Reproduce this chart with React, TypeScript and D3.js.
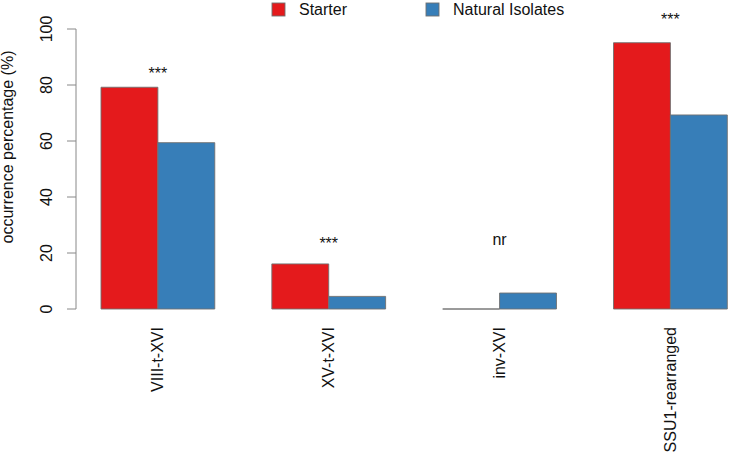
import React, { useEffect, useRef } from "react";
import * as d3 from "d3";

const categories = ["VIII-t-XVI", "XV-t-XVI", "inv-XVI", "SSU1-rearranged"];
const seriesNames = ["Starter", "Natural Isolates"];
const starterValues = [79.2, 16.1, 0, 95.1];
const isolateValues = [59.4, 4.5, 5.7, 69.3];
const annotations = ["***", "***", "nr", "***"];
const annotationY = [82, 21.5, 23, 101.5];
const yTicks = [0, 20, 40, 60, 80, 100];
const colors = ["#E41A1C", "#377EB8"];

const W = 729;
const H = 459;
const FONT = "'Liberation Sans', Arial, sans-serif";

const App = () => {
    const ref = useRef<SVGSVGElement>(null);

    useEffect(() => {
        if (!ref.current) return;
        const svg = d3.select(ref.current);
        svg.selectAll("*").remove();

        const y = d3.scaleLinear().domain([0, 100]).range([309, 29]);
        const x0 = d3
            .scaleBand()
            .domain(categories)
            .range([101, 727.3])
            .paddingInner(0.334)
            .paddingOuter(0);
        const x1 = d3
            .scaleBand()
            .domain(seriesNames)
            .range([0, x0.bandwidth()]);

        const rows = categories.map((c, i) => ({
            cat: c,
            vals: [starterValues[i], isolateValues[i]],
        }));

        // bars (paths so a zero-height bar still shows its outline)
        const g = svg
            .selectAll(".grp")
            .data(rows)
            .enter()
            .append("g")
            .attr("transform", (d) => `translate(${x0(d.cat)},0)`);

        g.selectAll("path")
            .data((d) => d.vals.map((v, j) => ({ v, j })))
            .enter()
            .append("path")
            .attr("d", (d) => {
                const xl = x1(seriesNames[d.j])!;
                const xr = xl + x1.bandwidth();
                return `M${xl},${y(0)}V${y(d.v)}H${xr}V${y(0)}Z`;
            })
            .attr("fill", (d) => colors[d.j])
            .attr("stroke", "#707070")
            .attr("stroke-width", 0.9);

        // significance labels
        svg.selectAll(".ann")
            .data(annotations)
            .enter()
            .append("text")
            .attr("x", (_, i) => x0(categories[i])! + x0.bandwidth() / 2)
            .attr("y", (_, i) => y(annotationY[i]))
            .attr("text-anchor", "middle")
            .attr("font-family", FONT)
            .attr("font-size", 16)
            .attr("fill", "#111")
            .text((d) => d);

        // category labels
        svg.selectAll(".cat")
            .data(categories)
            .enter()
            .append("text")
            .attr(
                "transform",
                (d) => `translate(${x0(d)! + x0.bandwidth() / 2},327) rotate(-90)`
            )
            .attr("dy", "0.35em")
            .attr("text-anchor", "end")
            .attr("font-family", FONT)
            .attr("font-size", 16)
            .attr("fill", "#111")
            .text((d) => d);

        // y axis
        const ax = svg.append("g").attr("stroke", "#888").attr("fill", "none");
        ax.append("line")
            .attr("x1", 76)
            .attr("x2", 76)
            .attr("y1", y(0))
            .attr("y2", y(100));
        ax.selectAll(".tk")
            .data(yTicks)
            .enter()
            .append("line")
            .attr("x1", 67)
            .attr("x2", 76)
            .attr("y1", (d) => y(d))
            .attr("y2", (d) => y(d));

        svg.selectAll(".tl")
            .data(yTicks)
            .enter()
            .append("text")
            .attr("transform", (d) => `translate(52,${y(d)}) rotate(-90)`)
            .attr("text-anchor", "middle")
            .attr("font-family", FONT)
            .attr("font-size", 16)
            .attr("fill", "#111")
            .text((d) => d);

        svg.append("text")
            .attr("transform", `translate(13,147) rotate(-90)`)
            .attr("text-anchor", "middle")
            .attr("font-family", FONT)
            .attr("font-size", 16)
            .attr("fill", "#111")
            .text("occurrence percentage (%)");

        // legend
        const legX = [272, 426];
        const leg = svg
            .selectAll(".leg")
            .data(seriesNames)
            .enter()
            .append("g")
            .attr("transform", (_, i) => `translate(${legX[i]},3)`);
        leg.append("rect")
            .attr("width", 13)
            .attr("height", 13)
            .attr("fill", (_, i) => colors[i])
            .attr("stroke", "#707070")
            .attr("stroke-width", 0.9);
        leg.append("text")
            .attr("x", 27)
            .attr("y", 12)
            .attr("font-family", FONT)
            .attr("font-size", 16)
            .attr("fill", "#111")
            .text((d) => d);
    }, []);

    return (
        <svg
            ref={ref}
            width={W}
            height={H}
            style={{ position: "absolute", left: 0, top: 0, background: "#fff" }}
        />
    );
};

export default App;
